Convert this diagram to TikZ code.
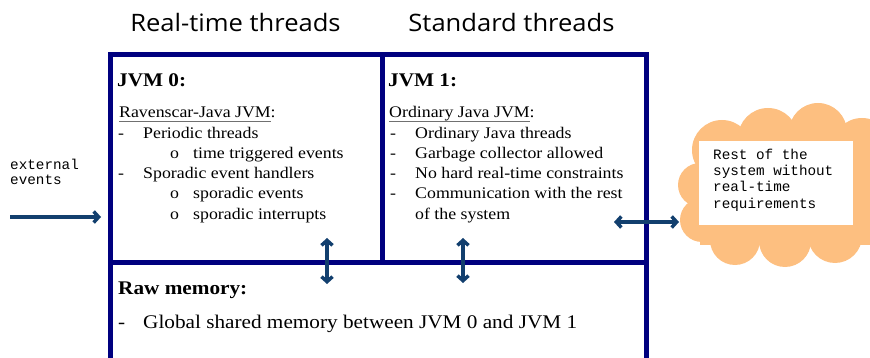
\documentclass[tikz,border=0pt]{standalone}
\usepackage{fontspec}
\setmainfont{Liberation Serif}[FakeStretch=1.1]
\newfontfamily\monofont{Liberation Mono}
\newfontfamily\titlefont{Open Sans}[FakeStretch=1.065]
\usetikzlibrary{arrows.meta}
\definecolor{boxnavy}{HTML}{00007F}
\definecolor{arrowblue}{HTML}{123F6E}
\definecolor{cloudfill}{HTML}{FDBF80}
\definecolor{ulgray}{HTML}{707070}
% thin gray underline set a little below the baseline
\newcommand\grayul[1]{\setbox0\hbox{#1}\rlap{\color{ulgray}\rule[-3.8pt]{\wd0}{0.9pt}}\box0}
\tikzset{
  frame/.style={draw=boxnavy, line width=5pt},
  title/.style={anchor=base, inner sep=0pt, font=\titlefont\fontsize{24}{28}\selectfont},
  head/.style={anchor=base west, inner sep=0pt, font=\bfseries\fontsize{19.3}{23}\selectfont},
  item/.style={anchor=base west, inner sep=0pt, font=\fontsize{16.2}{20}\selectfont},
  bigitem/.style={anchor=base west, inner sep=0pt, font=\fontsize{19.3}{23}\selectfont},
  mono/.style={anchor=base west, inner sep=0pt, font=\monofont\fontsize{14.3}{16}\selectfont},
  link/.style={draw=arrowblue, line width=3.5pt, arrows={Straight Barb[length=5pt,width=11pt]-Straight Barb[length=5pt,width=11pt]}},
  onelink/.style={draw=arrowblue, line width=3.5pt, -{Straight Barb[length=5pt,width=11pt]}},
}
\begin{document}
\begin{tikzpicture}[x=1pt, y=-1pt]
\useasboundingbox (0,0) rectangle (870,358);

% column titles
\node[title] (rttitle) at (235.5,32) {Real-time threads};
\node[title] (sttitle) at (511.5,32) {Standard threads};

% the three compartments
\node[frame, anchor=north west, minimum width=272pt, minimum height=208pt, inner sep=0pt] (jvm0) at (108,52) {};
\node[frame, anchor=north west, minimum width=264pt, minimum height=208pt, inner sep=0pt] (jvm1) at (380,52) {};
\node[frame, anchor=north west, minimum width=536pt, minimum height=100pt, inner sep=0pt] (raw) at (108,260) {};

% JVM 0 contents
\node[head] (h0) at (117,87) {JVM 0:};
\node[item] (s0) at (119,118) {\grayul{Ravenscar-Java JVM}:};
\node[item] (d01) at (118,139) {-};
\node[item] (t01) at (143,139) {Periodic threads};
\node[item] (o01) at (170,159) {o};
\node[item] (u01) at (193,159) {time triggered events};
\node[item] (d02) at (118,179) {-};
\node[item] (t02) at (143,179) {Sporadic event handlers};
\node[item] (o02) at (170,199) {o};
\node[item] (u02) at (193,199) {sporadic events};
\node[item] (o03) at (170,220) {o};
\node[item] (u03) at (193,220) {sporadic interrupts};

% JVM 1 contents
\node[head] (h1) at (388,87) {JVM 1:};
\node[item] (s1) at (389,118) {\grayul{Ordinary Java JVM}:};
\node[item] (d11) at (390,139) {-};
\node[item] (t11) at (415,139) {Ordinary Java threads};
\node[item] (d12) at (390,159) {-};
\node[item] (t12) at (415,159) {Garbage collector allowed};
\node[item] (d13) at (390,179) {-};
\node[item] (t13) at (415,179) {No hard real-time constraints};
\node[item] (d14) at (390,199) {-};
\node[item] (t14) at (415,199) {Communication with the rest};
\node[item] (t15) at (415,219) {of the system};

% raw memory contents
\node[head] (hr) at (118,294) {Raw memory:};
\node[bigitem] (dr) at (118,328) {-};
\node[bigitem] (tr) at (143,328) {Global shared memory between JVM 0 and JVM 1};

% the rest of the system: a cloud built from overlapping puffs
\fill[cloudfill] (700,140) rectangle (872,245);
\foreach \cx/\cy/\r in {722/150/30, 768/138/30, 818/132/29, 862/148/30,
                        700/185/22, 702/220/22, 735/240/25, 785/241/26,
                        835/236/27, 868/205/30}
  \fill[cloudfill] (\cx,\cy) circle[radius=\r];
\node[fill=white, anchor=north west, minimum width=154pt, minimum height=84pt, inner sep=0pt] (restbox) at (699,141) {};
\node[mono] (rest1) at (713,160) {Rest of the};
\node[mono] (rest2) at (713,176) {system without};
\node[mono] (rest3) at (713,192) {real-time};
\node[mono] (rest4) at (713,208) {requirements};

% external events
\node[mono] (ext1) at (10,170) {external};
\node[mono] (ext2) at (10,185) {events};
\coordinate (extstart) at (10,217);
\coordinate (extend) at (101,217);
\draw[onelink] (extstart) -- (extend);

% links between the compartments
\coordinate (a0top) at (327,238);
\coordinate (a0bot) at (327,284);
\coordinate (a1top) at (463,238);
\coordinate (a1bot) at (463,283);
\draw[link] (a0top) -- (a0bot);
\draw[link] (a1top) -- (a1bot);

\coordinate (sysleft) at (614,222);
\coordinate (sysright) at (679,222);
\draw[link] (sysleft) -- (sysright);
\end{tikzpicture}
\end{document}
